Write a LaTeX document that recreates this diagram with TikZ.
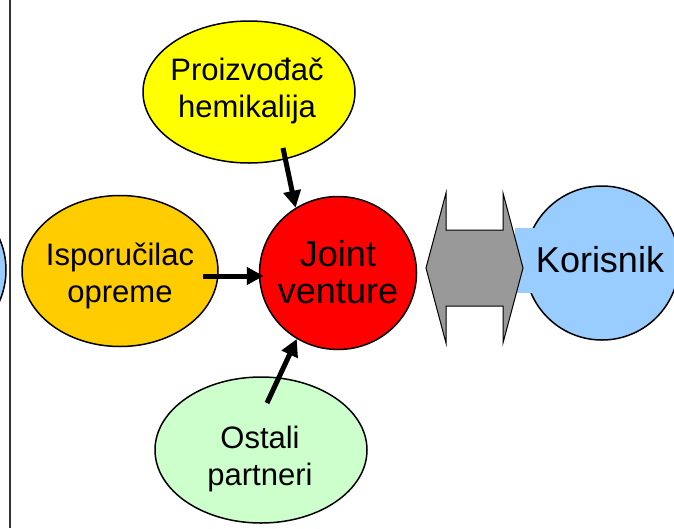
\documentclass[tikz,border=0pt]{standalone}
\usepackage{fontspec}
\setmainfont{Liberation Sans}
\usetikzlibrary{shapes.geometric,arrows.meta}
\definecolor{cOrange}{HTML}{FFCC00}
\definecolor{cRed}{HTML}{FF0000}
\definecolor{cYellow}{HTML}{FFFF00}
\definecolor{cGreen}{HTML}{CCFFCC}
\definecolor{cBlue}{HTML}{99CCFF}
\definecolor{cGray}{HTML}{999999}
\begin{document}
\begin{tikzpicture}[x=1pt,y=-1pt,
  blob/.style={ellipse,draw=black,line width=1.5pt,inner sep=0pt},
  smalltxt/.style={align=center,inner sep=0pt,font=\fontsize{31}{37}\selectfont},
  bigtxt/.style={align=center,inner sep=0pt,font=\fontsize{36}{37}\selectfont},
  arr/.style={line width=5pt,-{Triangle[length=17pt,width=17pt]}}]
\useasboundingbox (0,0) rectangle (674,528);
% left separator line and partial circle
\node[blob,fill=cBlue,minimum width=156pt,minimum height=156pt] (leftc) at (-72,270) {};
\draw[line width=2pt,black!80] (10,0) -- (10,528);
% shapes
\node[blob,fill=cYellow,minimum width=212pt,minimum height=142pt] (pro) at (249,92) {};
\node[blob,fill=cOrange,minimum width=196pt,minimum height=151pt] (isp) at (120,271) {};
\node[blob,fill=cRed,minimum width=157pt,minimum height=153pt] (jv) at (338,273) {};
\node[blob,fill=cGreen,minimum width=212pt,minimum height=146pt] (ost) at (261,450) {};
\node[blob,fill=cBlue,minimum width=154pt,minimum height=154pt] (kor) at (602,263) {};
\fill[cBlue] (515,228) rectangle (560,293);
% double arrow
\draw[fill=cGray,line width=1pt,line join=miter] (426,268) -- (446,193) -- (446,230) -- (503,230) -- (503,193) -- (523,268) -- (503,343) -- (503,306) -- (446,306) -- (446,343) -- cycle;
% texts
\node[smalltxt] (proT) at (247,91) {Proizvođač\\hemikalija};
\node[smalltxt] (ispT) at (120,276) {Isporučilac\\opreme};
\node[bigtxt] (jvT) at (338,272) {Joint\\venture};
\node[smalltxt] (ostT) at (260,459) {Ostali\\partneri};
\node[bigtxt] (korT) at (600,260) {Korisnik};
% arrows
\coordinate (a1) at (283,148);
\coordinate (a2) at (203,276);
\coordinate (a3) at (267,403);
\draw[arr] (a1) -- (jv.123);
\draw[arr,shorten >=-5pt] (a2) -- (a2 -| jv.west);
\draw[arr] (a3) -- (jv.238);
\end{tikzpicture}
\end{document}
